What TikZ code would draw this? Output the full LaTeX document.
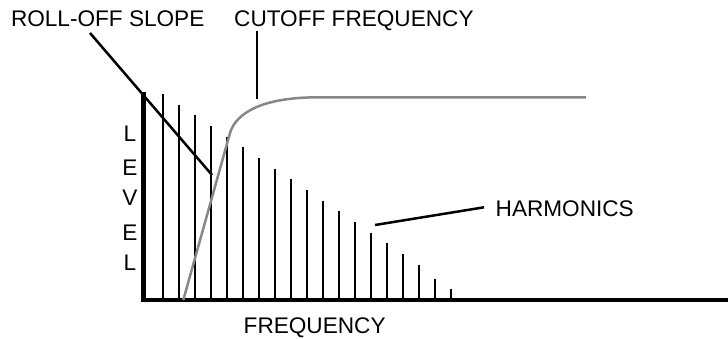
\documentclass[tikz,border=0pt]{standalone}
\usepackage{fontspec}
\setmainfont{Liberation Sans}
\begin{document}
\begin{tikzpicture}[x=1pt,y=-1pt,
  lbl/.style={inner sep=0pt,font=\fontsize{22.6}{26}\selectfont,text=black},
  axisline/.style={line width=4.5pt,black},
  bar/.style={line width=2pt,black},
  leader/.style={line width=2.5pt,black},
  resp/.style={line width=2.5pt,draw=black!47,line join=round}]
\useasboundingbox (0,0) rectangle (728,338);
% labels
\node[lbl,anchor=base west] (rolloff) at (10.8,26.6) {ROLL-OFF SLOPE};
\node[lbl,anchor=base west] (cutoff) at (234,26.6) {CUTOFF FREQUENCY};
\node[lbl,anchor=base west] (harm) at (495.5,216.7) {HARMONICS};
\node[lbl,anchor=base west] (freq) at (243.5,333.3) {FREQUENCY};
\node[lbl,anchor=base] (lv1) at (130,141.7) {L};
\node[lbl,anchor=base] (lv2) at (130,175) {E};
\node[lbl,anchor=base] (lv3) at (130,205.5) {V};
\node[lbl,anchor=base] (lv4) at (130,240) {E};
\node[lbl,anchor=base] (lv5) at (130,270.5) {L};
% axes
\coordinate (origin) at (143.3,300);
\coordinate (ytop) at (143.3,92);
\coordinate (xend) at (728,300);
\draw[axisline] (ytop) -- (origin |- 0,302.2);
\draw[axisline,line width=4pt] (141,300) -- (xend);
% harmonics
\foreach \i/\t in {0/94,1/104.7,2/115.3,3/126,4/136.7,5/147.3,6/158,7/168.7,8/179.3,9/190,10/200.7,11/211.3,12/222,13/232.7,14/243.3,15/254,16/264.7,17/278.7,18/289.3}{
  \coordinate (ht\i) at ({163+16*\i},\t);
  \coordinate (hb\i) at ({163+16*\i},300);
  \draw[bar] (ht\i) -- (hb\i);
}
% response curve
\coordinate (c0) at (183.3,300);
\coordinate (c1) at (230,133);
\coordinate (c2) at (318,97.3);
\coordinate (c3) at (586,97.3);
\draw[resp] (c0) -- (c1) .. controls (236,113) and (262,97.3) .. (c2) -- (c3);
% leaders
\coordinate (ro1) at (90,33);
\coordinate (ro2) at (212,175);
\draw[leader] (ro1) -- (ro2);
\coordinate (co1) at (256.7,30.7);
\coordinate (co2) at (256.7,98.7);
\draw[leader,line width=2.2pt] (co1) -- (co2);
\coordinate (hm1) at (484,207.3);
\coordinate (hm2) at (375,225);
\draw[leader] (hm1) -- (hm2);
\end{tikzpicture}
\end{document}
